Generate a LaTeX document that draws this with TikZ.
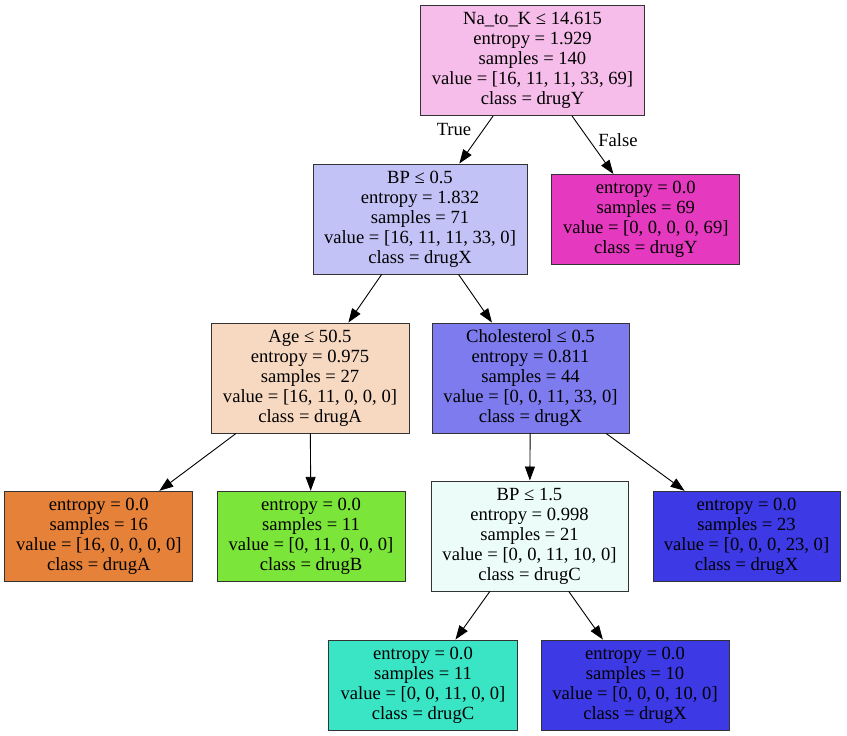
\documentclass[tikz,border=0pt]{standalone}
\usepackage{fontspec}
\setmainfont{Liberation Serif}
\usetikzlibrary{arrows.meta}
\definecolor{cRoot}{RGB}{246,188,234}
\definecolor{cBPa}{RGB}{195,194,247}
\definecolor{cAge}{RGB}{247,216,193}
\definecolor{cChol}{RGB}{125,123,238}
\definecolor{cBPb}{RGB}{235,252,249}
\definecolor{cDrugA}{RGB}{229,129,57}
\definecolor{cDrugB}{RGB}{123,229,57}
\definecolor{cDrugC}{RGB}{57,229,197}
\definecolor{cDrugX}{RGB}{60,57,229}
\definecolor{cDrugY}{RGB}{229,57,192}
\tikzset{
  treebox/.style={draw=black!80, line width=0.95pt, rectangle, align=center, inner sep=0pt,
    font=\fontsize{18.6}{20}\selectfont},
  split/.style={treebox, minimum height=110pt},
  leaf/.style={treebox, minimum height=90pt},
  edge/.style={line width=0.9pt, -{Triangle[length=14pt,width=10pt]}},
  elabel/.style={font=\fontsize{18.6}{20}\selectfont, inner sep=0pt}
}
\begin{document}
\begin{tikzpicture}[x=1pt,y=-1pt]
\useasboundingbox (0,0) rectangle (847,736);
\node[split, fill=cRoot, minimum width=224pt] (root) at (532.5,60.5)
  {Na\_to\_K ≤ 14.615\\entropy = 1.929\\samples = 140\\value = [16, 11, 11, 33, 69]\\class = drugY};
\node[split, fill=cBPa, minimum width=214pt] (bpa) at (420,219)
  {BP ≤ 0.5\\entropy = 1.832\\samples = 71\\value = [16, 11, 11, 33, 0]\\class = drugX};
\node[leaf, fill=cDrugY, minimum width=188pt] (ly) at (645.8,219.5)
  {entropy = 0.0\\samples = 69\\value = [0, 0, 0, 0, 69]\\class = drugY};
\node[split, fill=cAge, minimum width=198pt] (age) at (310,378)
  {Age ≤ 50.5\\entropy = 0.975\\samples = 27\\value = [16, 11, 0, 0, 0]\\class = drugA};
\node[split, fill=cChol, minimum width=197pt] (chol) at (530.5,378)
  {Cholesterol ≤ 0.5\\entropy = 0.811\\samples = 44\\value = [0, 0, 11, 33, 0]\\class = drugX};
\node[leaf, fill=cDrugA, minimum width=188pt] (la) at (98.8,536.3)
  {entropy = 0.0\\samples = 16\\value = [16, 0, 0, 0, 0]\\class = drugA};
\node[leaf, fill=cDrugB, minimum width=188pt] (lb) at (311,536.3)
  {entropy = 0.0\\samples = 11\\value = [0, 11, 0, 0, 0]\\class = drugB};
\node[split, fill=cBPb, minimum width=197pt] (bpb) at (529.5,536)
  {BP ≤ 1.5\\entropy = 0.998\\samples = 21\\value = [0, 0, 11, 10, 0]\\class = drugC};
\node[leaf, fill=cDrugX, minimum width=187pt] (lx23) at (746.5,536.3)
  {entropy = 0.0\\samples = 23\\value = [0, 0, 0, 23, 0]\\class = drugX};
\node[leaf, fill=cDrugC, minimum width=189pt] (lc) at (423,685)
  {entropy = 0.0\\samples = 11\\value = [0, 0, 11, 0, 0]\\class = drugC};
\node[leaf, fill=cDrugX, minimum width=188pt] (lx10) at (635,685)
  {entropy = 0.0\\samples = 10\\value = [0, 0, 0, 10, 0]\\class = drugX};

\draw[edge] (root) -- (bpa);
\draw[edge] (root) -- (ly);
\draw[edge] (bpa) -- (age);
\draw[edge] (bpa) -- (chol);
\draw[edge] (age) -- (la);
\draw[edge] (age) -- (lb);
\draw[edge] (chol) -- (bpb);
\draw[edge] (chol) -- (lx23);
\draw[edge] (bpb) -- (lc);
\draw[edge] (bpb) -- (lx10);

\node[elabel] (ltrue) at (454,130) {True};
\node[elabel] (lfalse) at (618,140) {False};
\end{tikzpicture}
\end{document}
